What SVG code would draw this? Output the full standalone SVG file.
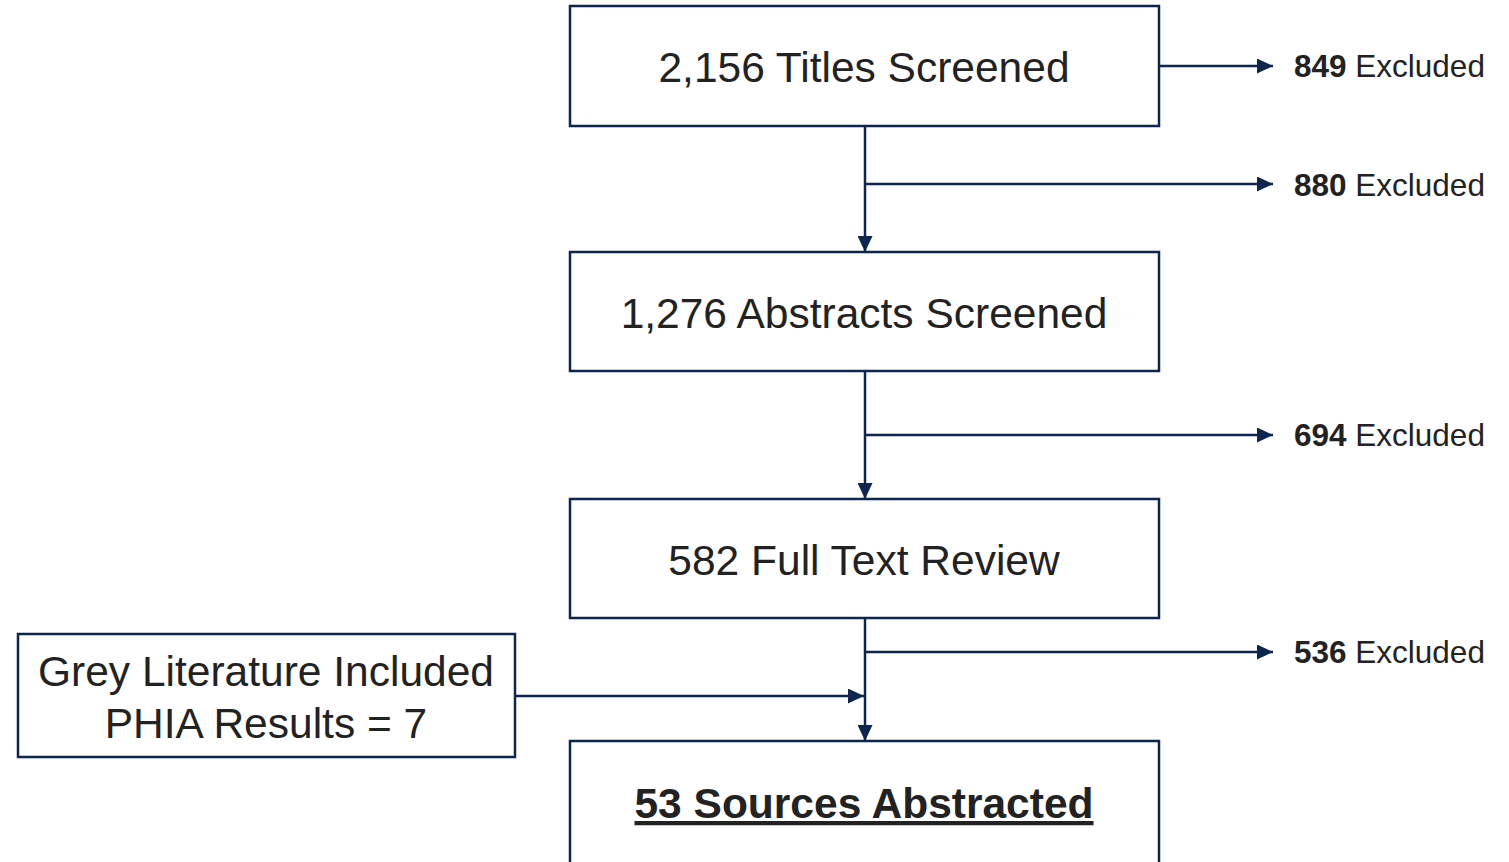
<svg xmlns="http://www.w3.org/2000/svg" width="1509" height="862" viewBox="0 0 1509 862">
<style>
.box{fill:#fff;stroke:#0c2650;stroke-width:2.5}
.t{font-family:"Liberation Sans",Arial,sans-serif;font-size:42.5px;fill:#222;text-anchor:middle}
.ex{font-family:"Liberation Sans",Arial,sans-serif;font-size:31.5px;fill:#222}
.c{stroke:#0c2650;stroke-width:2.5;fill:none}
</style>
<defs>
<marker id="ah" markerUnits="userSpaceOnUse" markerWidth="16" markerHeight="15" viewBox="0 0 16 15" refX="16" refY="7.5" orient="auto">
<path d="M0,0 L16,7.5 L0,15 Z" fill="#0c2650"/>
</marker>
</defs>
<rect width="1509" height="862" fill="#fff"/>
<g id="connectors">
<line class="c" x1="865" y1="126" x2="865" y2="252" marker-end="url(#ah)"/>
<line class="c" x1="865" y1="371" x2="865" y2="499" marker-end="url(#ah)"/>
<line class="c" x1="865" y1="618" x2="865" y2="741" marker-end="url(#ah)"/>
<line class="c" x1="1159" y1="66" x2="1273" y2="66" marker-end="url(#ah)"/>
<line class="c" x1="865" y1="184" x2="1273" y2="184" marker-end="url(#ah)"/>
<line class="c" x1="865" y1="435" x2="1273" y2="435" marker-end="url(#ah)"/>
<line class="c" x1="865" y1="652" x2="1273" y2="652" marker-end="url(#ah)"/>
<line class="c" x1="515" y1="696" x2="864" y2="696" marker-end="url(#ah)"/>
</g>
<g id="titles">
<rect class="box" x="570" y="6" width="589" height="120"/>
<text class="t" x="864" y="82">2,156 Titles Screened</text>
</g>
<g id="abstracts">
<rect class="box" x="570" y="252" width="589" height="119"/>
<text class="t" x="864" y="328">1,276 Abstracts Screened</text>
</g>
<g id="fulltext">
<rect class="box" x="570" y="499" width="589" height="119"/>
<text class="t" x="864" y="575">582 Full Text Review</text>
</g>
<g id="sources">
<rect class="box" x="570" y="741" width="589" height="140"/>
<text class="t" x="864" y="818" font-weight="bold" text-decoration="underline">53 Sources Abstracted</text>
</g>
<g id="grey">
<rect class="box" x="18" y="634" width="497" height="123"/>
<text class="t" x="266" y="686">Grey Literature Included</text>
<text class="t" x="266" y="738">PHIA Results = 7</text>
</g>
<g id="ex1"><text class="ex" x="1294" y="77"><tspan font-weight="bold">849</tspan> Excluded</text></g>
<g id="ex2"><text class="ex" x="1294" y="196"><tspan font-weight="bold">880</tspan> Excluded</text></g>
<g id="ex3"><text class="ex" x="1294" y="446"><tspan font-weight="bold">694</tspan> Excluded</text></g>
<g id="ex4"><text class="ex" x="1294" y="663"><tspan font-weight="bold">536</tspan> Excluded</text></g>
</svg>
